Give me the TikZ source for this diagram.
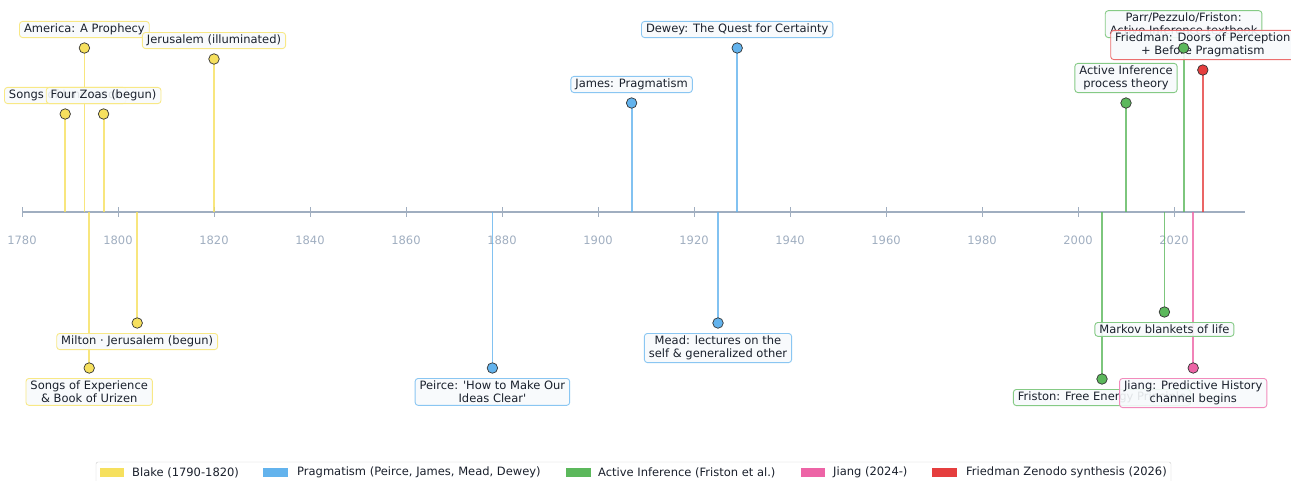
\documentclass[tikz,border=0pt]{standalone}
\usepackage{fontspec}
\setmainfont{DejaVu Sans}
\usetikzlibrary{positioning}
\definecolor{blake}{HTML}{F6E05E}
\definecolor{prag}{HTML}{63B3ED}
\definecolor{actinf}{HTML}{5CB85C}
\definecolor{jiang}{HTML}{ED64A6}
\definecolor{fried}{HTML}{E53E3E}
\definecolor{axisgray}{HTML}{A0AEC0}
\definecolor{boxfill}{HTML}{F7FAFC}
\definecolor{ink}{HTML}{1A202C}
\tikzset{
	evstem/.style={draw=#1, opacity=0.8, line width=1.8pt},
	evdot/.style={circle, fill=#1, draw=black!80, line width=0.7pt, minimum size=10.5pt, inner sep=0pt},
	evlabel/.style={draw=#1!75!white, line width=0.9pt, fill=boxfill, fill opacity=0.9, text opacity=1, rounded corners=3pt, align=center, inner xsep=4.5pt, inner ysep=2.5pt, text=ink, font=\fontsize{11.5}{13}\selectfont},
	yearlabel/.style={text=axisgray, font=\fontsize{11.5}{13}\selectfont},
	legtext/.style={anchor=west, inner sep=0pt, text=ink, font=\fontsize{11.5}{13}\selectfont},
}
\begin{document}
\begin{tikzpicture}[x=1pt, y=-1pt]
	\useasboundingbox (0,0) rectangle (1291,480);
	% axis
	\coordinate (ax0) at (22,212);
	\coordinate (ax1) at (1245,212);
	\draw[draw=axisgray, line width=1.5pt] (ax0) -- (ax1);
	\foreach \yr in {1780,1800,...,2020} {
		\pgfmathsetmacro{\xx}{22+(\yr-1780)*4.8}
		\draw[draw=axisgray, line width=1pt] (\xx,207) -- (\xx,217);
		\node[yearlabel] (y\yr) at (\xx,240) {\yr};
	}
	% event points on the axis and at the dots
	\coordinate (a1) at (65.2,212);   \coordinate (c1) at (65.2,114);
	\coordinate (a2) at (84.4,212);   \coordinate (c2) at (84.4,48);
	\coordinate (a3) at (89.2,212);   \coordinate (c3) at (89.2,368);
	\coordinate (a4) at (103.6,212);  \coordinate (c4) at (103.6,114);
	\coordinate (a5) at (137.2,212);  \coordinate (c5) at (137.2,323);
	\coordinate (a6) at (214,212);    \coordinate (c6) at (214,59);
	\coordinate (a7) at (492.4,212);  \coordinate (c7) at (492.4,368);
	\coordinate (a8) at (631.6,212);  \coordinate (c8) at (631.6,103);
	\coordinate (a9) at (718,212);    \coordinate (c9) at (718,323);
	\coordinate (a10) at (737.2,212); \coordinate (c10) at (737.2,48);
	\coordinate (a11) at (1102,212);  \coordinate (c11) at (1102,379);
	\coordinate (a12) at (1126,212);  \coordinate (c12) at (1126,103);
	\coordinate (a13) at (1164.4,212); \coordinate (c13) at (1164.4,312);
	\coordinate (a14) at (1183.6,212); \coordinate (c14) at (1183.6,48);
	\coordinate (a15) at (1193.2,212); \coordinate (c15) at (1193.2,368);
	\coordinate (a16) at (1202.8,212); \coordinate (c16) at (1202.8,70);
	% stems
	\draw[evstem=blake] (a1) -- (c1);
	\draw[evstem=blake] (a2) -- (c2);
	\draw[evstem=blake] (a3) -- (c3);
	\draw[evstem=blake] (a4) -- (c4);
	\draw[evstem=blake] (a5) -- (c5);
	\draw[evstem=blake] (a6) -- (c6);
	\draw[evstem=prag] (a7) -- (c7);
	\draw[evstem=prag] (a8) -- (c8);
	\draw[evstem=prag] (a9) -- (c9);
	\draw[evstem=prag] (a10) -- (c10);
	\draw[evstem=actinf] (a11) -- (c11);
	\draw[evstem=actinf] (a12) -- (c12);
	\draw[evstem=actinf] (a13) -- (c13);
	\draw[evstem=actinf] (a14) -- (c14);
	\draw[evstem=jiang] (a15) -- (c15);
	\draw[evstem=fried] (a16) -- (c16);
	% labels
	\node[evlabel=blake, above=10pt of c1] (l1) {Songs of Innocence};
	\node[evlabel=blake, above=10pt of c2] (l2) {America: A Prophecy};
	\node[evlabel=blake, below=10pt of c3] (l3) {Songs of Experience\\\& Book of Urizen};
	\node[evlabel=blake, above=10pt of c4] (l4) {Four Zoas (begun)};
	\node[evlabel=blake, below=10pt of c5] (l5) {Milton · Jerusalem (begun)};
	\node[evlabel=blake, above=10pt of c6] (l6) {Jerusalem (illuminated)};
	\node[evlabel=prag, below=10pt of c7] (l7) {Peirce: \textquotesingle How to Make Our\\Ideas Clear\textquotesingle};
	\node[evlabel=prag, above=10pt of c8] (l8) {James: Pragmatism};
	\node[evlabel=prag, below=10pt of c9] (l9) {Mead: lectures on the\\self \& generalized other};
	\node[evlabel=prag, above=10pt of c10] (l10) {Dewey: The Quest for Certainty};
	\node[evlabel=actinf, below=10pt of c11] (l11) {Friston: Free Energy Principle};
	\node[evlabel=actinf, above=10pt of c12] (l12) {Active Inference\\process theory};
	\node[evlabel=actinf, below=10pt of c13] (l13) {Markov blankets of life};
	\node[evlabel=actinf, above=10pt of c14] (l14) {Parr/Pezzulo/Friston:\\Active Inference textbook};
	\node[evlabel=jiang, below=10pt of c15] (l15) {Jiang: Predictive History\\channel begins};
	\node[evlabel=fried, above=10pt of c16] (l16) {Friedman: Doors of Perception\\+ Before Pragmatism};
	% dots
	\node[evdot=blake] (d1) at (c1) {};
	\node[evdot=blake] (d2) at (c2) {};
	\node[evdot=blake] (d3) at (c3) {};
	\node[evdot=blake] (d4) at (c4) {};
	\node[evdot=blake] (d5) at (c5) {};
	\node[evdot=blake] (d6) at (c6) {};
	\node[evdot=prag] (d7) at (c7) {};
	\node[evdot=prag] (d8) at (c8) {};
	\node[evdot=prag] (d9) at (c9) {};
	\node[evdot=prag] (d10) at (c10) {};
	\node[evdot=actinf] (d11) at (c11) {};
	\node[evdot=actinf] (d12) at (c12) {};
	\node[evdot=actinf] (d13) at (c13) {};
	\node[evdot=actinf] (d14) at (c14) {};
	\node[evdot=jiang] (d15) at (c15) {};
	\node[evdot=fried] (d16) at (c16) {};
	% legend
	\draw[draw=black!20, fill=white, rounded corners=2pt] (96,462) rectangle (1171,492);
	\fill[blake] (100,468) rectangle (124,477);
	\node[legtext] (k1) at (132,472.5) {Blake (1790-1820)};
	\fill[prag] (263,468) rectangle (288,477);
	\node[legtext] (k2) at (297,472.5) {Pragmatism (Peirce, James, Mead, Dewey)};
	\fill[actinf] (566,468) rectangle (591,477);
	\node[legtext] (k3) at (598,472.5) {Active Inference (Friston et al.)};
	\fill[jiang] (801,468) rectangle (825,477);
	\node[legtext] (k4) at (833,472.5) {Jiang (2024-)};
	\fill[fried] (932,468) rectangle (957,477);
	\node[legtext] (k5) at (966,472.5) {Friedman Zenodo synthesis (2026)};
\end{tikzpicture}
\end{document}
